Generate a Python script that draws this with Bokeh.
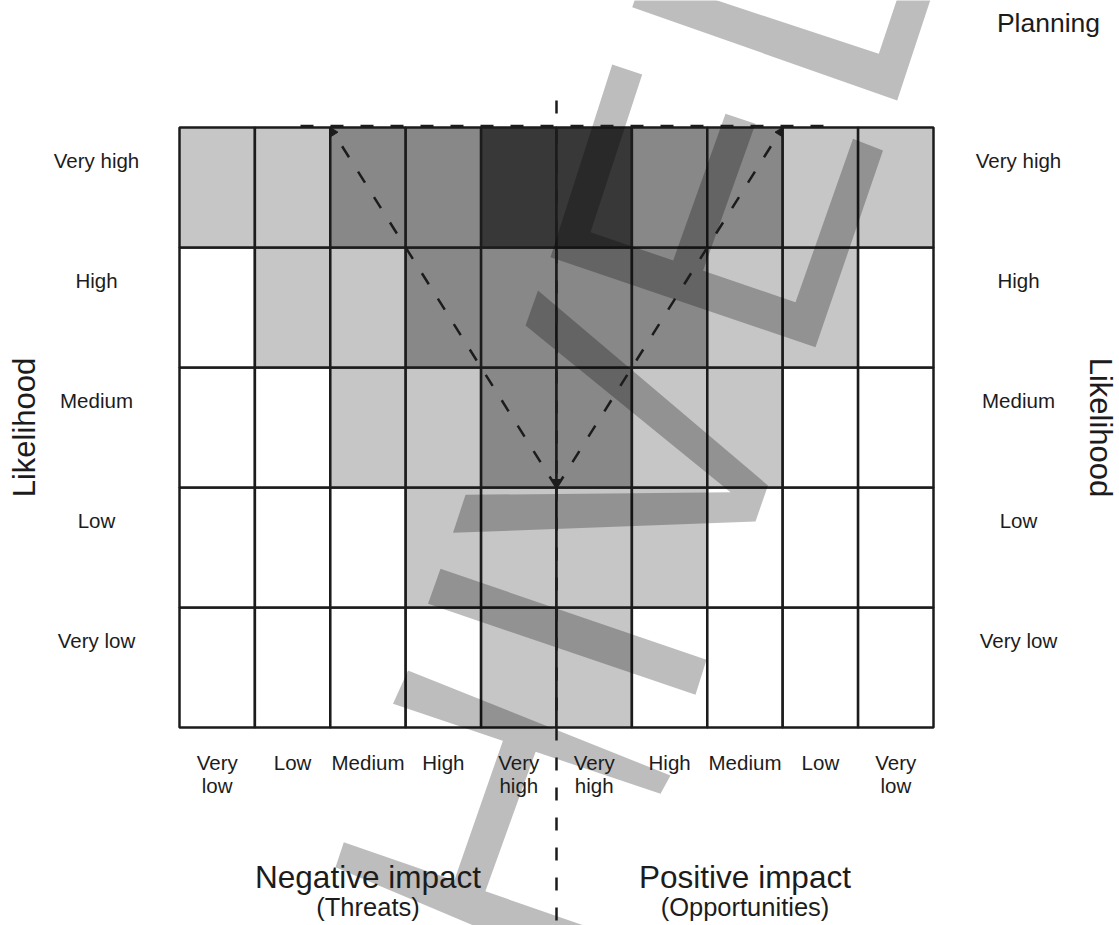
import math
from bokeh.plotting import figure
from bokeh.models import ColumnDataSource, Range1d, Arrow, NormalHead
from bokeh.core.properties import value
from bokeh.embed import file_html
from bokeh.resources import INLINE

# ---------------- data ----------------
likelihood_levels = ["Very low", "Low", "Medium", "High", "Very high"]          # bottom -> top
impact_labels = ["Very low", "Low", "Medium", "High", "Very high",
                 "Very high", "High", "Medium", "Low", "Very low"]               # left -> right
risk_grid = [                                                                   # rows bottom -> top
    [0, 0, 0, 0, 1, 1, 0, 0, 0, 0],
    [0, 0, 0, 1, 1, 1, 1, 0, 0, 0],
    [0, 0, 1, 1, 2, 2, 1, 1, 0, 0],
    [0, 1, 1, 2, 2, 2, 2, 1, 1, 0],
    [1, 1, 2, 2, 3, 3, 2, 2, 1, 1],
]
side_titles = ["Negative impact", "Positive impact"]
side_subtitles = ["(Threats)", "(Opportunities)"]
axis_title = "Likelihood"
corner_title = "Planning"

# ---------------- styles / layout ----------------
shade_colors = ["#ffffff", "#c6c6c6", "#888888", "#383838"]
INK = "#1c1c1c"
FONT = "Liberation Sans"
W, H = 1119, 925
GX0, GY1, CW, CH = 179.0, 727.0, 75.4, 120.0   # grid left / bottom (page px), cell size


def gx(px):
    return (px - GX0) / CW


def gy(py):
    return (GY1 - py) / CH


# watermark scribble outlines (page pixel coordinates)
watermark = [
    [(631.7, 6.7), (896.7, 100), (933, -10), (899.4, -10), (878.3, 53.3), (686.5, -10), (637.5, -10)],
    [(611.7, 64), (550, 256.7), (815, 346.7), (882.5, 150), (852.5, 138.3), (795, 301.7), (590, 231.7), (641.7, 74)],
    [(725, 113.3), (666.2, 278), (696.2, 288), (755, 123.3)],
    [(537.5, 290), (767.5, 485), (755, 521), (452.5, 532.3), (465, 494.3), (730, 491.7), (525, 325)],
    [(440, 568.3), (706, 659.3), (695, 694.3), (427.5, 603.3)],
    [(407.5, 670), (670, 775), (660, 793.3), (392.5, 703.3)],
    [(506.7, 728), (452, 885), (483.4, 895), (539.2, 740)],
    [(343.3, 841.7), (335, 866.7), (508.5, 940), (626.6, 940)],
]

p = figure(width=W, height=H, output_backend="svg", toolbar_location=None,
           x_range=Range1d(gx(0), gx(W)), y_range=Range1d(gy(H), gy(0)),
           min_border=0, background_fill_color="white", border_fill_color="white")
p.axis.visible = False
p.grid.visible = False
p.outline_line_color = None

# ---------------- cells ----------------
cx, cy, cc = [], [], []
for r, row in enumerate(risk_grid):
    for c, lvl in enumerate(row):
        cx.append(c + 0.5)
        cy.append(r + 0.5)
        cc.append(shade_colors[lvl])
p.rect(x="x", y="y", width=1, height=1, fill_color="c", line_color=INK, line_width=2.5,
       source=ColumnDataSource(dict(x=cx, y=cy, c=cc)))

# ---------------- watermark (single path, consistent winding) ----------------
wx, wy = [], []
for poly in watermark:
    pts = [(gx(a), gy(b)) for a, b in poly]
    area = sum(pts[i][0] * pts[(i + 1) % len(pts)][1] - pts[(i + 1) % len(pts)][0] * pts[i][1]
               for i in range(len(pts)))
    if area < 0:
        pts = pts[::-1]
    if wx:
        wx.append(float("nan"))
        wy.append(float("nan"))
    wx += [q[0] for q in pts]
    wy += [q[1] for q in pts]
p.patch(wx, wy, fill_color="black", fill_alpha=0.26, line_color=None)

# ---------------- dashed guide lines ----------------
DASH = "13 17"
head = dict(size=8, fill_color=INK, line_color=INK, line_width=1)
ncols = len(impact_labels)
mid = ncols / 2
apex_y = 2
top_y = len(risk_grid)
p.add_layout(Arrow(x_start=mid, y_start=gy(100), x_end=mid, y_end=apex_y, line_color=INK,
                   line_width=2.5, line_dash=DASH, end=NormalHead(**head)))
p.add_layout(Arrow(x_start=mid, y_start=apex_y, x_end=mid - 3, y_end=top_y, line_color=INK,
                   line_width=2.5, line_dash=DASH, end=NormalHead(**head)))
p.add_layout(Arrow(x_start=mid, y_start=apex_y, x_end=mid + 3, y_end=top_y, line_color=INK,
                   line_width=2.5, line_dash=DASH, end=NormalHead(**head)))
p.line([mid, mid], [apex_y, gy(930)], line_color=INK, line_width=2.5, line_dash=DASH)
p.line([gx(300), gx(827)], [top_y + 1.5 / CH, top_y + 1.5 / CH], line_color=INK,
       line_width=2.5, line_dash=DASH)

# ---------------- text ----------------
small = dict(text_font=value(FONT), text_font_size=value("20.5px"), text_color=INK,
             text_align="center", text_baseline="alphabetic")

ry = [i + 0.658 + 8.5 / CH for i in range(len(likelihood_levels))]
p.text(x=[gx(96)] * 5, y=ry, text=likelihood_levels, **small)
p.text(x=[gx(1018)] * 5, y=ry, text=likelihood_levels, **small)

l1, l2, x1, x2 = [], [], [], []
for i, lab in enumerate(impact_labels):
    parts = lab.split(" ", 1)
    if parts[0] == "Very":
        l1.append(parts[0]); x1.append(i + 0.5)
        l2.append(parts[1]); x2.append(i + 0.5)
    else:
        l1.append(lab); x1.append(i + 0.5)
p.text(x=x1, y=[gy(762)] * len(x1), text=l1, **small)
p.text(x=x2, y=[gy(784.6)] * len(x2), text=l2, **small)

big = dict(text_font=value(FONT), text_color=INK, text_align="center")
p.text(x=[2.5, 7.5], y=[gy(876)] * 2, text=side_titles, text_font_size=value("31.5px"),
       text_baseline="alphabetic", **big)
p.text(x=[2.5, 7.5], y=[gy(906)] * 2, text=side_subtitles, text_font_size=value("25.5px"),
       text_baseline="alphabetic", **big)
p.text(x=[gx(1048)], y=[gy(22.5)], text=[corner_title], text_font_size=value("26.5px"),
       text_baseline="alphabetic", **big)
p.text(x=[gx(24)], y=[gy(427)], text=[axis_title], angle=math.pi / 2, text_font_size=value("31px"),
       text_baseline="middle", **big)
p.text(x=[gx(1100)], y=[gy(427)], text=[axis_title], angle=-math.pi / 2, text_font_size=value("31px"),
       text_baseline="middle", **big)

open("out.html", "w").write(file_html(p, INLINE))
